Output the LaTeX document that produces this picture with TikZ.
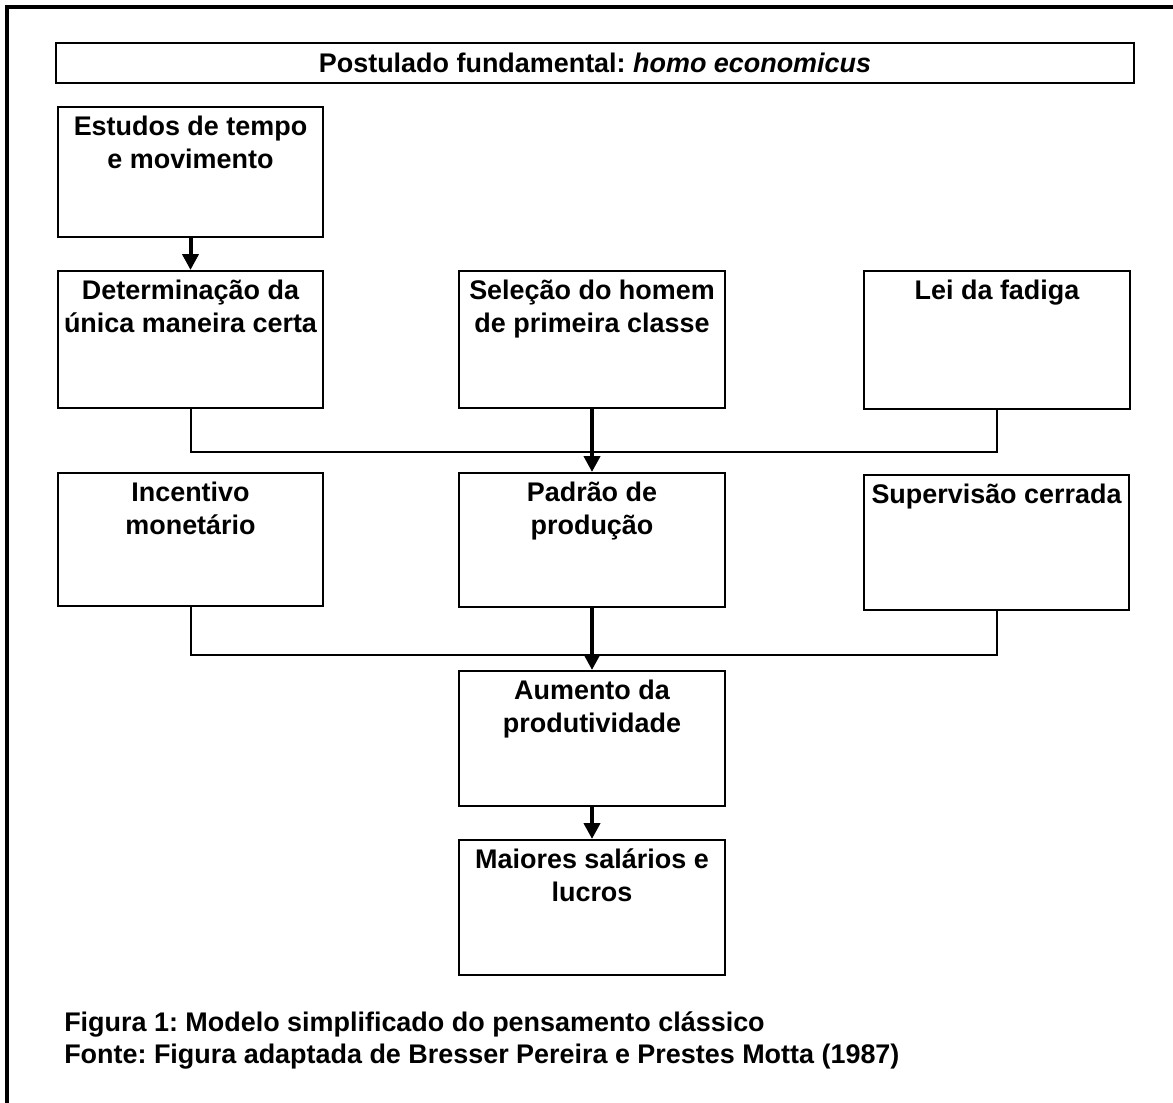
\documentclass[tikz,border=0pt]{standalone}
\usepackage{fontspec}
\setmainfont{Liberation Sans}
\usetikzlibrary{arrows.meta}
\frenchspacing

\begin{document}
\begin{tikzpicture}[x=0.75pt, y=-0.75pt,
  txt/.style={font=\bfseries\fontsize{20.2}{24.75}\selectfont},
  box/.style={draw, line width=1.5pt, rectangle, inner sep=0pt},
  size/.style 2 args={minimum width=#1*0.75pt, minimum height=#2*0.75pt},
  lbl/.style={txt, anchor=north, yshift=-7pt, inner sep=0pt, align=center},
  link/.style={line width=1.5pt},
  flow/.style={line width=3pt, -{Triangle[width=12pt,length=12pt]}}
]
\useasboundingbox (0,0) rectangle (1173,1102);

% outer frame (top and left edges)
\draw[line width=3pt] (1180,7) -- (7,7) -- (7,1110);

% heading bar
\node[box, size={1078}{40}, txt] (post) at (595,63)
  {Postulado fundamental: \textit{homo economicus}};

% first row
\node[box, size={265}{130}, label={[lbl]north:Estudos de tempo\\e movimento}] (est) at (190.5,172) {};
\node[box, size={265}{137}, label={[lbl]north:Determinação da\\única maneira certa}] (det) at (190.5,339.5) {};
\node[box, size={266}{137}, label={[lbl]north:Seleção do homem\\de primeira classe}] (sel) at (592,339.5) {};
\node[box, size={266}{138}, label={[lbl]north:Lei da fadiga}] (lei) at (997,340) {};

% second row
\node[box, size={265}{133}, label={[lbl]north:Incentivo\\monetário}] (inc) at (190.5,539.5) {};
\node[box, size={266}{134}, label={[lbl]north:Padrão de\\produção}] (pad) at (592,540) {};
\node[box, size={265}{135}, label={[lbl]north:Supervisão cerrada}] (sup) at (996.5,542.5) {};

% results
\node[box, size={266}{135}, label={[lbl]north:Aumento da\\produtividade}] (aum) at (592,738.5) {};
\node[box, size={266}{135}, label={[lbl]north:Maiores salários e\\lucros}] (mai) at (592,907.5) {};

% junction lines
\coordinate (j1) at (592,452);
\coordinate (j2) at (592,655);
\draw[link] (det.south) -- (det.south |- j1) -- (lei.south |- j1) -- (lei.south);
\draw[link] (inc.south) -- (inc.south |- j2) -- (sup.south |- j2) -- (sup.south);

% arrows
\draw[flow] (est.south) -- (det.north);
\draw[flow] (sel.south) -- (pad.north);
\draw[flow] (pad.south) -- (aum.north);
\draw[flow] (aum.south) -- (mai.north);

% caption (base anchor sits on the last line)
\node[anchor=base west, inner sep=0pt, align=left,
      font=\bfseries\fontsize{20.2}{24}\selectfont] (cap) at (64,1063.5)
  {Figura 1: Modelo simplificado do pensamento clássico\\
   Fonte: Figura adaptada de Bresser Pereira e Prestes Motta (1987)};
\end{tikzpicture}
\end{document}
